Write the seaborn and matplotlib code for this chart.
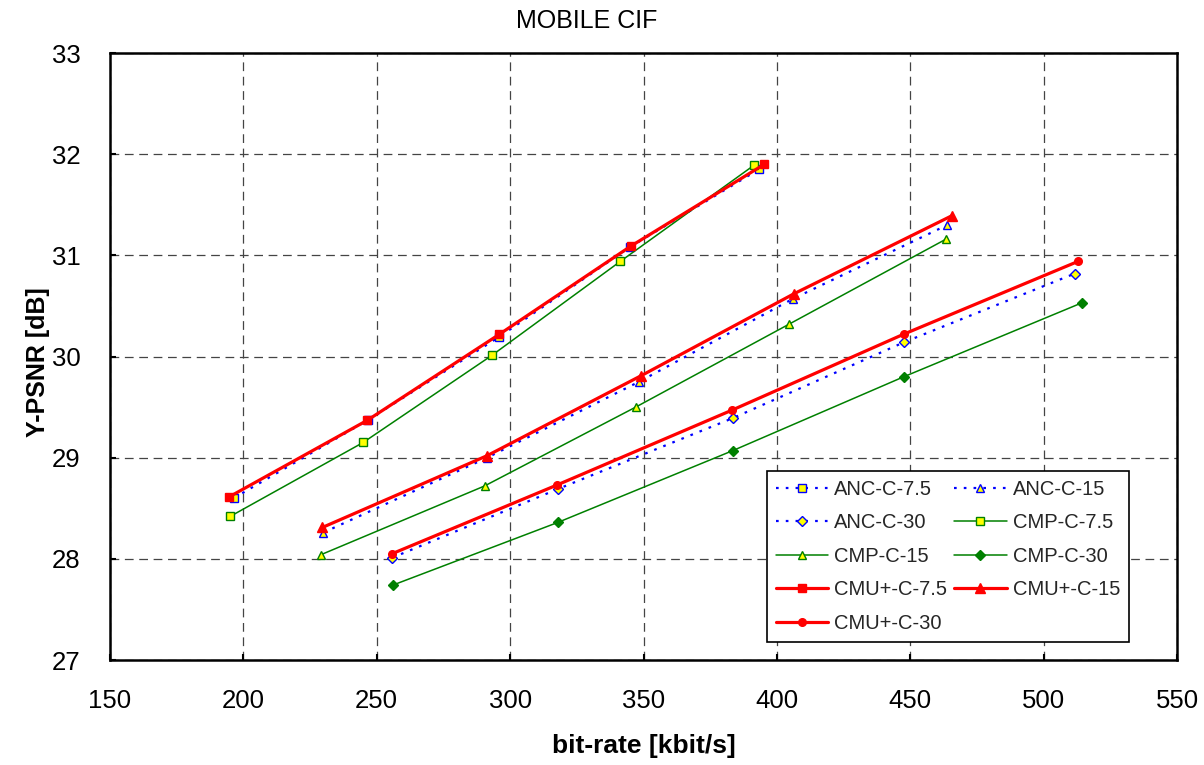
import matplotlib
matplotlib.use("Agg")
import matplotlib.pyplot as plt
import seaborn as sns
import pandas as pd

# ---- data ----
anc_75_x = [196.4, 246.6, 295.7, 344.8, 393.3]
anc_75_y = [28.60, 29.37, 30.19, 31.08, 31.85]
anc_15_x = [230.0, 291.4, 348.3, 406.0, 463.9]
anc_15_y = [28.26, 29.00, 29.75, 30.57, 31.30]
anc_30_x = [255.7, 317.9, 383.4, 447.6, 511.7]
anc_30_y = [28.01, 28.69, 29.39, 30.14, 30.82]
cmp_75_x = [195.1, 244.9, 293.1, 341.3, 391.4]
cmp_75_y = [28.42, 29.15, 30.01, 30.94, 31.89]
cmp_15_x = [229.0, 290.4, 347.1, 404.6, 463.4]
cmp_15_y = [28.04, 28.72, 29.50, 30.32, 31.16]
cmp_30_x = [256.0, 317.9, 383.5, 447.6, 514.3]
cmp_30_y = [27.74, 28.36, 29.07, 29.80, 30.53]
cmu_75_x = [194.5, 246.5, 296.0, 345.2, 395.3]
cmu_75_y = [28.61, 29.37, 30.22, 31.09, 31.90]
cmu_15_x = [229.6, 291.4, 349.1, 406.4, 465.5]
cmu_15_y = [28.31, 29.02, 29.81, 30.62, 31.39]
cmu_30_x = [255.7, 317.6, 383.2, 447.5, 512.9]
cmu_30_y = [28.05, 28.73, 29.47, 30.22, 30.94]

x_ticks = [150, 200, 250, 300, 350, 400, 450, 500, 550]
y_ticks = [27, 28, 29, 30, 31, 32, 33]

sns.set_theme(style="white")
plt.rcParams['font.family'] = ['Liberation Sans', 'DejaVu Sans']

fig = plt.figure(figsize=(12.04, 7.65), dpi=100)
ax = fig.add_axes([110/1204, 1-660/765, 1067/1204, 607/765])

BLUE = '#0000ff'
GREEN = '#008000'
RED = '#ff0000'
YEL = '#ffff00'
dotted = (0, (1.2, 3.2))

series = [
    ("ANC-C-7.5", anc_75_x, anc_75_y, dict(color=BLUE, linestyle=dotted, lw=1.6, marker='s', ms=5.2, mfc=YEL, mec=BLUE, mew=1.0)),
    ("ANC-C-15", anc_15_x, anc_15_y, dict(color=BLUE, linestyle=dotted, lw=1.6, marker='^', ms=6.2, mfc=YEL, mec=BLUE, mew=1.0)),
    ("ANC-C-30", anc_30_x, anc_30_y, dict(color=BLUE, linestyle=dotted, lw=1.6, marker='D', ms=4.8, mfc=YEL, mec=BLUE, mew=1.0)),
    ("CMP-C-7.5", cmp_75_x, cmp_75_y, dict(color=GREEN, linestyle='-', lw=1.1, marker='s', ms=5.2, mfc=YEL, mec=GREEN, mew=1.0)),
    ("CMP-C-15", cmp_15_x, cmp_15_y, dict(color=GREEN, linestyle='-', lw=1.1, marker='^', ms=6.2, mfc=YEL, mec=GREEN, mew=1.0)),
    ("CMP-C-30", cmp_30_x, cmp_30_y, dict(color=GREEN, linestyle='-', lw=1.1, marker='D', ms=4.8, mfc=GREEN, mec=GREEN, mew=1.0)),
    ("CMU+-C-7.5", cmu_75_x, cmu_75_y, dict(color=RED, linestyle='-', lw=2.3, marker='s', ms=5.5, mfc=RED, mec=RED, mew=1.0)),
    ("CMU+-C-15", cmu_15_x, cmu_15_y, dict(color=RED, linestyle='-', lw=2.3, marker='^', ms=6.5, mfc=RED, mec=RED, mew=1.0)),
    ("CMU+-C-30", cmu_30_x, cmu_30_y, dict(color=RED, linestyle='-', lw=2.3, marker='o', ms=5.5, mfc=RED, mec=RED, mew=1.0)),
]

handles = {}
for name, xs, ys, st in series:
    df = pd.DataFrame({"x": xs, "y": ys})
    sns.lineplot(data=df, x="x", y="y", ax=ax, estimator=None, sort=False,
                 label=name, **st)
    handles[name] = ax.get_lines()[-1]

ax.set_xlim(150, 550)
ax.set_ylim(27, 33)
ax.set_xticks(x_ticks)
ax.set_yticks(y_ticks)
ax.set_xticklabels([str(v) for v in x_ticks])
ax.set_yticklabels([str(v) for v in y_ticks])
ax.tick_params(axis='both', direction='in', length=4, width=1.5, pad=21,
               labelsize=18.5, colors='black', bottom=True, left=True)

ax.grid(True, color='#444444', linestyle=(0, (7, 4.5)), lw=0.9)
for sp in ax.spines.values():
    sp.set_color('black')
    sp.set_linewidth(1.8)

ax.set_xlabel("bit-rate [kbit/s]", fontsize=19, fontweight='bold', color='black')
ax.set_ylabel("Y-PSNR [dB]", fontsize=18, fontweight='bold', color='black')
ax.xaxis.set_label_coords(0.5, (660-734)/607)
ax.yaxis.set_label_coords((50-110)/1067, 0.49)

ax.set_title("MOBILE CIF", fontsize=18, x=(586.5-110)/1067, y=(660-28)/607,
             pad=0, color='black')

order = ["ANC-C-7.5", "ANC-C-30", "CMP-C-15", "CMU+-C-7.5", "CMU+-C-30",
         "ANC-C-15", "CMP-C-7.5", "CMP-C-30", "CMU+-C-15"]
leg = ax.legend([handles[n] for n in order], order, ncol=2, fontsize=14.5,
                loc='lower right', bbox_to_anchor=(1019/1067, 18/607),
                frameon=True, fancybox=False, edgecolor='black',
                framealpha=1, handlelength=2.6, handletextpad=0.3,
                columnspacing=0.35, labelspacing=0.72, borderpad=0.45,
                borderaxespad=0)
leg.get_frame().set_linewidth(1.2)

fig.savefig("out.png", dpi=100)
